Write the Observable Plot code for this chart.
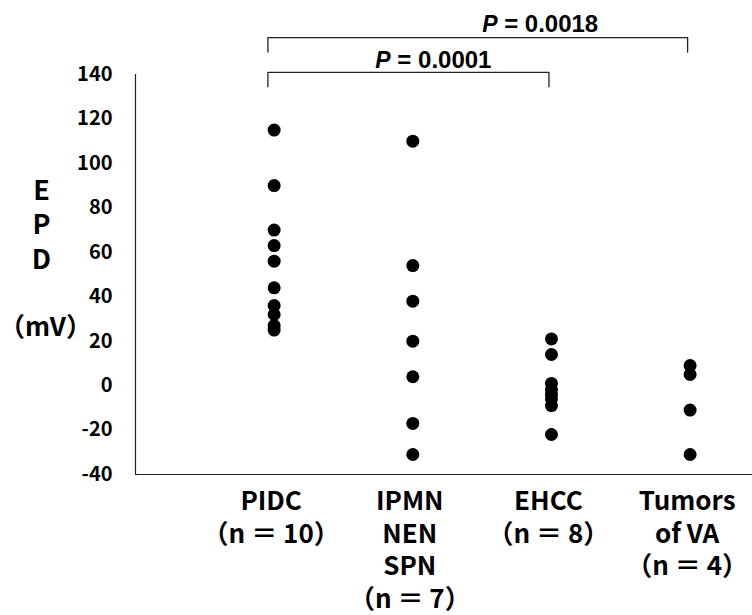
<!DOCTYPE html>
<html><head><meta charset="utf-8">
<script src="https://cdn.jsdelivr.net/npm/d3@7"></script>
<script src="https://cdn.jsdelivr.net/npm/@observablehq/plot@0.6"></script>
<style>
body{margin:0;background:#fff;}
#chart{position:relative;width:752px;height:615px;}
</style>
</head><body><div id="chart"></div>
<script>
// ---- data ----
const groups = ["PIDC", "IPMN", "EHCC", "VA"];
const groupLabels = ["PIDC\n（n ＝ 10）", "IPMN\nNEN\nSPN\n（n ＝ 7）", "EHCC\n（n ＝ 8）", "Tumors\nof VA\n（n ＝ 4）"];
const pidcValues = [115, 90, 70, 63, 56, 44, 36, 32, 27, 25];
const ipmnValues = [110, 54, 38, 20, 4, -17, -31];
const ehccValues = [21, 14, 1, -2, -4, -6, -9, -22];
const vaValues = [9, 5, -11, -31];
const yTicks = [-40, -20, 0, 20, 40, 60, 80, 100, 120, 140];
const yTitle = "E\nP\nD";
const yUnit = "（mV）";
const compareFrom = ["PIDC", "PIDC"];
const compareTo = ["EHCC", "VA"];
const pValues = ["0.0001", "0.0018"];

// ---- build ----
const seriesValues = [pidcValues, ipmnValues, ehccValues, vaValues];
const points = [];
groups.forEach((g, i) => seriesValues[i].forEach(v => points.push({group: g, pos: i + 1, value: v})));
const pos = g => groups.indexOf(g) + 1;

// brackets (level 0 lower, level 1 higher)
const bracketTop = [141, 156.6];
const bracketDrop = 6.5;
const bracketPts = [];
const pLabels = [];
compareFrom.forEach((a, k) => {
  const x1 = pos(a) - 0.045, x2 = pos(compareTo[k]) - 0.018;
  const yt = bracketTop[k], yb = yt - bracketDrop;
  bracketPts.push({k, x: x1, y: yb}, {k, x: x1, y: yt}, {k, x: x2, y: yt}, {k, x: x2, y: yb});
  pLabels.push({k, x: k === 0 ? 1.73 : 2.5, y: yt + (k === 0 ? 5.2 : 6.0), p: "= " + pValues[k]});
});

const font = "'Noto Sans CJK JP', 'Noto Sans', sans-serif";
const pfont = "'Liberation Sans', Arial, sans-serif";

const plot = Plot.plot({
  width: 752,
  height: 615,
  marginLeft: 135,
  marginRight: 0,
  marginTop: 74,
  marginBottom: 141,
  style: {fontFamily: font, color: "#000", background: "#fff", overflow: "visible"},
  x: {type: "linear", domain: [0, 4.45], axis: null},
  y: {domain: [-40, 140], axis: null},
  marks: [
    Plot.axisY({ticks: yTicks, tickFormat: d => String(d), tickSize: 0, tickPadding: 23, fontSize: 20, fontWeight: "bold", label: null, fill: "#000"}),
    Plot.axisX({ticks: [1, 2, 3, 4], tickFormat: i => groupLabels[i - 1], tickSize: 0, tickPadding: 12, dx: -3, fontSize: 26, fontWeight: "bold", lineHeight: 1.26, label: null, fill: "#000"}),
    Plot.ruleX([0], {y1: -40, y2: 140, stroke: "#222", strokeWidth: 1.2}),
    Plot.ruleY([-40], {stroke: "#222", strokeWidth: 1.2}),
    Plot.dot(points, {x: "pos", y: "value", r: 6.5, fill: "#000", stroke: "none"}),
    Plot.line(bracketPts, {x: "x", y: "y", z: "k", stroke: "#222", strokeWidth: 1.3}),
    Plot.text(pLabels, {x: "x", y: "y", text: () => "P", textAnchor: "start", fontStyle: "italic", fontWeight: "bold", fontSize: 23, fontFamily: pfont, fill: "#000"}),
    Plot.text(pLabels, {x: "x", y: "y", text: "p", dx: 22, textAnchor: "start", fontWeight: "bold", fontSize: 24, fontFamily: pfont, fill: "#000"}),
    // y-axis title, stacked letters and unit
    Plot.text([yTitle], {frameAnchor: "left", text: d => d, textAnchor: "middle", lineHeight: 1.27, dx: -94, dy: -51, fontSize: 27, fontWeight: "bold", fill: "#000"}),
    Plot.text([yUnit], {frameAnchor: "left", text: d => d, textAnchor: "middle", dx: -90, dy: 53, fontSize: 26, fontWeight: "bold", fill: "#000"})
  ]
});
document.getElementById("chart").appendChild(plot);
</script>
</body></html>
